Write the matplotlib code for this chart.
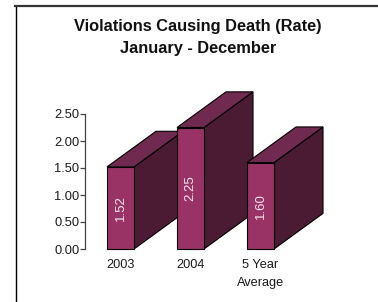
import matplotlib
matplotlib.use("Agg")
import matplotlib.pyplot as plt
from matplotlib.patches import Polygon
from matplotlib.lines import Line2D

categories = ["2003", "2004", "5 Year\nAverage"]
values = [1.52, 2.25, 1.60]
value_labels = ["1.52", "2.25", "1.60"]
yticks = [0.0, 0.5, 1.0, 1.5, 2.0, 2.5]
ytick_labels = ["0.00", "0.50", "1.00", "1.50", "2.00", "2.50"]

plt.rcParams['font.family'] = ['Liberation Sans', 'DejaVu Sans']

W, H = 378, 302
fig = plt.figure(figsize=(W / 100, H / 100), dpi=100)

# axes in pixel geometry
x0, x1 = 85, 340
ybot, ytop = 249, 87
ax = fig.add_axes([x0 / W, (H - ybot) / H, (x1 - x0) / W, (ybot - ytop) / H])
ax.patch.set_alpha(0)
ax.set_ylim(0, 3.0)
ax.set_xlim((x0 - 120.5) / 70, (x1 - 120.5) / 70)

front_c = "#993366"
top_c = "#70294f"
side_c = "#4b1b34"
edge = "#000000"
bw = 0.386
dx, dy = 0.70, 0.66

for i, v in enumerate(values):
    l, r = i - bw / 2, i + bw / 2
    side = Polygon([(r, 0), (r + dx, dy), (r + dx, v + dy), (r, v)],
                   closed=True, facecolor=side_c, edgecolor=edge, lw=0.8, clip_on=False)
    top = Polygon([(l, v), (r, v), (r + dx, v + dy), (l + dx, v + dy)],
                  closed=True, facecolor=top_c, edgecolor=edge, lw=0.8, clip_on=False)
    front = Polygon([(l, 0), (r, 0), (r, v), (l, v)],
                    closed=True, facecolor=front_c, edgecolor=edge, lw=0.8, clip_on=False)
    ax.add_patch(side)
    ax.add_patch(top)
    ax.add_patch(front)
    ax.text(i, v / 2, value_labels[i], rotation=90, ha="center", va="center",
            color="#f4e6ee", fontsize=9.5)

for s in ["top", "right", "bottom"]:
    ax.spines[s].set_visible(False)
ax.spines["left"].set_bounds(0, 2.5)
ax.spines["left"].set_color("#444444")
ax.spines["left"].set_linewidth(0.9)
ax.set_yticks(yticks)
ax.set_yticklabels(ytick_labels, fontsize=9.3, color="#1a1a1a")
ax.tick_params(axis="y", length=3.5, width=0.9, color="#444444", pad=0.6)
ax.set_xticks(range(len(categories)))
ax.set_xticklabels(categories, fontsize=9.2, color="#1a1a1a", linespacing=1.6, va="top")
ax.tick_params(axis="x", length=0, pad=7.5)

fig.text(198 / W, 1 - 27 / H, "Violations Causing Death (Rate)", ha="center", va="center",
         fontsize=11.8, fontweight="bold", color="#111111")
fig.text(198 / W, 1 - 48 / H, "January - December", ha="center", va="center",
         fontsize=11.8, fontweight="bold", color="#111111")

# outer frame
fig.add_artist(Line2D([15.5 / W, 15.5 / W], [0, 1 - 6 / H], transform=fig.transFigure,
                      color="black", lw=1.0))
fig.add_artist(Line2D([15 / W, 1], [1 - 6 / H, 1 - 6 / H], transform=fig.transFigure,
                      color="#333333", lw=1.6))

fig.savefig("out.png", dpi=100)
